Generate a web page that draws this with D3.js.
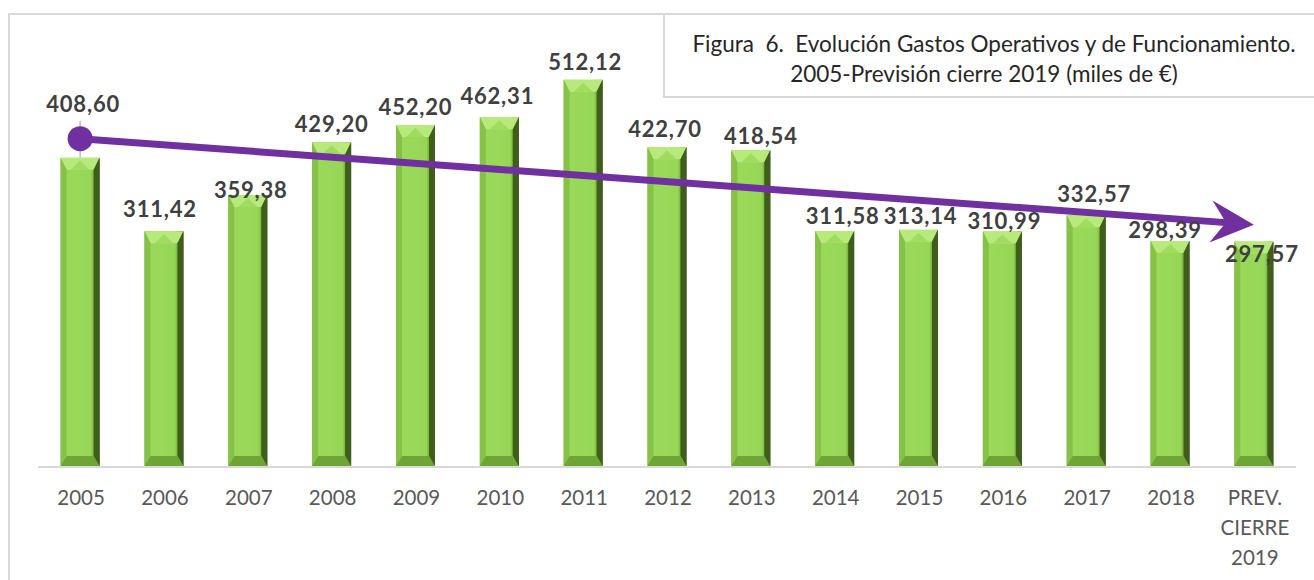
<!DOCTYPE html>
<html>
<head>
<meta charset="utf-8">
<script src="https://cdn.jsdelivr.net/npm/d3@7"></script>
<style>
  body { margin: 0; background: #fff; }
  svg { display: block; }
  .lbl { font-family: Lato, "Noto Sans", sans-serif; font-weight: 700; font-size: 22px; letter-spacing: 0.8px; fill: #404040; }
  .tick { font-family: Lato, "Noto Sans", sans-serif; font-size: 20.5px; fill: #595959; }
  .title { font-family: Lato, "Noto Sans", sans-serif; font-size: 22.5px; fill: #262626; white-space: pre; }
</style>
</head>
<body>
<div id="chart"></div>
<script>
// data
var categories = ["2005", "2006", "2007", "2008", "2009", "2010", "2011", "2012", "2013", "2014", "2015", "2016", "2017", "2018", "PREV."];
var tickLines = [["2005"], ["2006"], ["2007"], ["2008"], ["2009"], ["2010"], ["2011"], ["2012"], ["2013"], ["2014"], ["2015"], ["2016"], ["2017"], ["2018"], ["PREV.", "CIERRE", "2019"]];
var gastos = [408.60, 311.42, 359.38, 429.20, 452.20, 462.31, 512.12, 422.70, 418.54, 311.58, 313.14, 310.99, 332.57, 298.39, 297.57];
var labels = ["408,60", "311,42", "359,38", "429,20", "452,20", "462,31", "512,12", "422,70", "418,54", "311,58", "313,14", "310,99", "332,57", "298,39", "297,57"];
// trend arrow ends (category, value)
var trendFrom = ["2005", 434];
var trendTo = ["PREV.", 320];
var titleLines = ["Figura  6.  Evolución Gastos Operativos y de Funcionamiento.", "2005-Previsión cierre 2019 (miles de €)"];

// label nudges in px, like the hand-moved labels of the original
var nudge = [[3, -36], [-4, -4], [3, 13], [0, 0], [0, 0], [-2, -3], [2, 0], [-2, 0], [10, 4], [8, 3], [2, 4], [2, 8], [8, -3], [-5, 7], [8, 30]];

var svgWidth = 1314;
var svgHeight = 580;

var svg = d3.select("#chart")
    .append("svg")
    .attr("width", svgWidth)
    .attr("height", svgHeight);

var defs = svg.append("defs");
var face = defs.append("linearGradient").attr("id", "face");
[["0%", "#78b23a"], ["14%", "#9bd95b"], ["78%", "#96d656"], ["88%", "#6a9a30"], ["100%", "#3a5818"]].forEach(function (s) {
    face.append("stop").attr("offset", s[0]).attr("stop-color", s[1]);
});

// outer border
svg.append("rect")
    .attr("x", 9).attr("y", 14)
    .attr("width", 1320).attr("height", 600)
    .attr("fill", "none")
    .attr("stroke", "#d9d9d9")
    .attr("stroke-width", 2);

var x = d3.scaleBand()
    .domain(categories)
    .range([38, 1296])
    .paddingInner(0.535)
    .paddingOuter(0.27);

var y = d3.scaleLinear()
    .domain([0, 600])
    .range([466, 13.5]);

// bars with bevel
var bars = svg.selectAll(".bar")
    .data(gastos)
    .enter()
    .append("g")
    .attr("class", "bar");

var s = 6, t = 12, b = 10;
bars.each(function (d, i) {
    var g = d3.select(this);
    var x0 = x(categories[i]), x1 = x0 + x.bandwidth();
    var y0 = y(d), y1 = y(0);
    g.append("rect")
        .attr("x", x0).attr("y", y0)
        .attr("width", x1 - x0).attr("height", y1 - y0)
        .attr("fill", "url(#face)");
    var poly = function (pts, fill) {
        g.append("polygon").attr("points", pts.map(function (p) { return p.join(","); }).join(" ")).attr("fill", fill);
    };
    poly([[x0, y0], [x1, y0], [x1 - s, y0 + t], [x0 + s, y0 + t]], "#b7ea7b");
    poly([[x0 + s + 4, y0 + t], [x1 - s - 4, y0 + t], [(x0 + x1) / 2, y0 + 3]], "#9fdc60");
    poly([[x0, y0], [x0 + s, y0 + t], [x0 + s, y1 - b], [x0, y1]], "#86c247");
    poly([[x1, y0], [x1 - s, y0 + t], [x1 - s, y1 - b], [x1, y1]], "#3f5e1b");
    poly([[x0, y1], [x0 + s, y1 - b], [x1 - s, y1 - b], [x1, y1]], "#6fa436");
});

// axis line
svg.append("line")
    .attr("x1", 38).attr("x2", 1296)
    .attr("y1", y(0) + 1).attr("y2", y(0) + 1)
    .attr("stroke", "#d9d9d9")
    .attr("stroke-width", 2);

// category labels
var ticks = svg.selectAll(".tick")
    .data(tickLines)
    .enter()
    .append("text")
    .attr("class", "tick")
    .attr("text-anchor", "middle")
    .attr("x", (d, i) => x(categories[i]) + x.bandwidth() / 2 + 1)
    .attr("y", 505);
ticks.selectAll("tspan")
    .data(d => d)
    .enter()
    .append("tspan")
    .attr("x", function () { return d3.select(this.parentNode).attr("x"); })
    .attr("dy", (d, j) => j === 0 ? 0 : 30)
    .text(d => d);

// trend arrow
var ax = x(trendFrom[0]) + x.bandwidth() / 2, ay = y(trendFrom[1]);
var bx = x(trendTo[0]) + x.bandwidth() / 2, by = y(trendTo[1]);
var ang = Math.atan2(by - ay, bx - ax);
var rot = function (px, py) {
    return [bx + px * Math.cos(ang) - py * Math.sin(ang), by + px * Math.sin(ang) + py * Math.cos(ang)];
};
var notch = rot(-28, 0);

svg.append("line")
    .attr("x1", ax).attr("x2", ax)
    .attr("y1", ay - 18).attr("y2", y(gastos[0]))
    .attr("stroke", "#bfbfbf")
    .attr("stroke-width", 1.5);

svg.append("line")
    .attr("x1", ax).attr("y1", ay)
    .attr("x2", notch[0]).attr("y2", notch[1])
    .attr("stroke", "#7030a0")
    .attr("stroke-width", 7);

svg.append("polygon")
    .attr("points", [rot(0, 0), rot(-43, -21), notch, rot(-43, 21)].map(p => p.join(",")).join(" "))
    .attr("fill", "#7030a0");

svg.append("circle")
    .attr("cx", ax).attr("cy", ay)
    .attr("r", 12.5)
    .attr("fill", "#7030a0");

// value labels
svg.selectAll(".lbl")
    .data(gastos)
    .enter()
    .append("text")
    .attr("class", "lbl")
    .attr("text-anchor", "middle")
    .attr("x", (d, i) => x(categories[i]) + x.bandwidth() / 2 + nudge[i][0])
    .attr("y", (d, i) => y(d) - 10 + nudge[i][1])
    .text((d, i) => labels[i]);

// title box
svg.append("rect")
    .attr("x", 664).attr("y", 14)
    .attr("width", 700).attr("height", 83)
    .attr("fill", "#fff")
    .attr("stroke", "#d9d9d9")
    .attr("stroke-width", 2);

svg.selectAll(".title")
    .data(titleLines)
    .enter()
    .append("text")
    .attr("class", "title")
    .attr("text-anchor", "middle")
    .attr("x", (d, i) => i === 0 ? 994 : 984)
    .attr("y", (d, i) => 52 + i * 30)
    .text(d => d);
</script>
</body>
</html>
